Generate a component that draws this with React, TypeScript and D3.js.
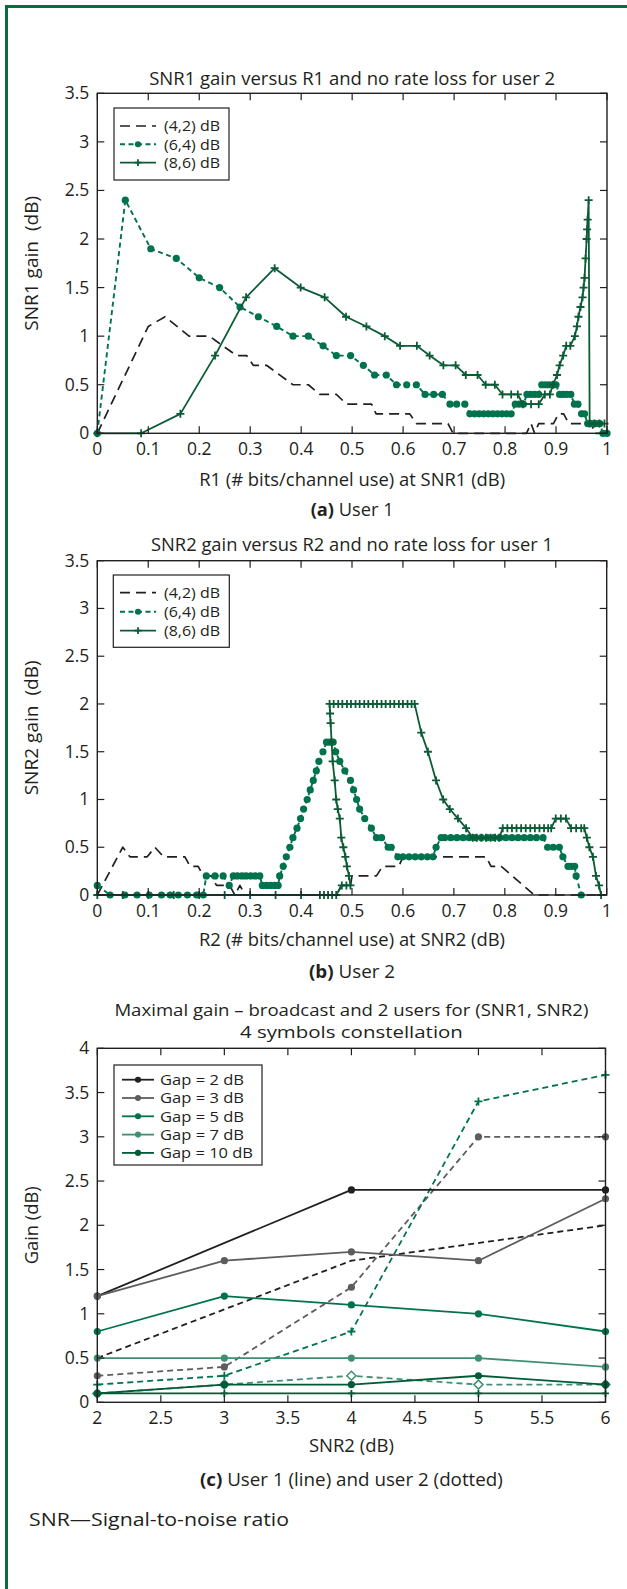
import React from "react";
import * as d3 from "d3";

type Pt = [number, number];

const FONT = "'Open Sans', 'Noto Sans', sans-serif";
const INK = "#231f20";
const BORDER = "#0b6b3e";

// ---------- tick values / labels ----------
const rateTicks = [0, 0.1, 0.2, 0.3, 0.4, 0.5, 0.6, 0.7, 0.8, 0.9, 1];
const rateTickLabels = ["0", "0.1", "0.2", "0.3", "0.4", "0.5", "0.6", "0.7", "0.8", "0.9", "1"];
const gainTicksAB = [0, 0.5, 1, 1.5, 2, 2.5, 3, 3.5];
const gainTickLabelsAB = ["0", "0.5", "1", "1.5", "2", "2.5", "3", "3.5"];
const snrTicks = [2, 2.5, 3, 3.5, 4, 4.5, 5, 5.5, 6];
const snrTickLabels = ["2", "2.5", "3", "3.5", "4", "4.5", "5", "5.5", "6"];
const gainTicksC = [0, 0.5, 1, 1.5, 2, 2.5, 3, 3.5, 4];
const gainTickLabelsC = ["0", "0.5", "1", "1.5", "2", "2.5", "3", "3.5", "4"];

const pairLabels = ["(4,2) dB", "(6,4) dB", "(8,6) dB"];
const gapLabels = ["Gap = 2 dB", "Gap = 3 dB", "Gap = 5 dB", "Gap = 7 dB", "Gap = 10 dB"];

// ---------- panel (a) data: R1 vs SNR1 gain ----------
const a42: Pt[] = [[0, 0], [0.1, 1.1], [0.133, 1.2], [0.18, 1.0], [0.22, 1.0], [0.273, 0.8], [0.293, 0.8], [0.306, 0.7], [0.332, 0.7], [0.384, 0.5], [0.414, 0.5], [0.437, 0.4], [0.469, 0.4], [0.489, 0.3], [0.538, 0.3], [0.547, 0.2], [0.613, 0.2], [0.626, 0.1], [0.688, 0.1], [0.698, 0], [0.842, 0], [0.851, 0.1], [0.858, 0], [0.866, 0.1], [0.895, 0.1], [0.905, 0.2], [0.915, 0.2], [0.925, 0.1], [0.97, 0.1], [0.975, 0], [1, 0]];
const a64: Pt[] = [[0, 0], [0.055, 2.4], [0.105, 1.9], [0.155, 1.8], [0.2, 1.6], [0.24, 1.5], [0.28, 1.3], [0.316, 1.2], [0.352, 1.1], [0.384, 1.0], [0.414, 1.0], [0.443, 0.9], [0.469, 0.8], [0.497, 0.8], [0.522, 0.7], [0.544, 0.6], [0.567, 0.6], [0.587, 0.5], [0.607, 0.5], [0.626, 0.5], [0.643, 0.4], [0.66, 0.4], [0.677, 0.4], [0.692, 0.3], [0.705, 0.3], [0.721, 0.3], [0.731, 0.2], [0.74, 0.2], [0.749, 0.2], [0.758, 0.2], [0.767, 0.2], [0.776, 0.2], [0.785, 0.2], [0.794, 0.2], [0.803, 0.2], [0.812, 0.2], [0.82, 0.3], [0.828, 0.3], [0.836, 0.3], [0.843, 0.4], [0.85, 0.4], [0.858, 0.4], [0.866, 0.4], [0.872, 0.5], [0.879, 0.5], [0.886, 0.5], [0.893, 0.5], [0.9, 0.5], [0.907, 0.4], [0.914, 0.4], [0.921, 0.4], [0.929, 0.4], [0.936, 0.3], [0.943, 0.3], [0.95, 0.2], [0.956, 0.2], [0.962, 0.1], [0.97, 0.1], [0.978, 0.1], [0.986, 0.1], [0.992, 0], [1.0, 0]];
const a86: Pt[] = [[0, 0], [0.086, 0], [0.163, 0.2], [0.231, 0.8], [0.292, 1.4], [0.348, 1.7], [0.399, 1.5], [0.446, 1.4], [0.488, 1.2], [0.528, 1.1], [0.564, 1.0], [0.594, 0.9], [0.627, 0.9], [0.652, 0.8], [0.679, 0.7], [0.703, 0.7], [0.723, 0.6], [0.746, 0.6], [0.762, 0.5], [0.78, 0.5], [0.795, 0.4], [0.812, 0.4], [0.825, 0.4], [0.835, 0.3], [0.851, 0.3], [0.866, 0.3], [0.878, 0.4], [0.888, 0.4], [0.894, 0.5], [0.902, 0.6], [0.907, 0.7], [0.914, 0.8], [0.92, 0.9], [0.928, 0.9], [0.937, 1.0], [0.941, 1.1], [0.944, 1.2], [0.948, 1.3], [0.952, 1.4], [0.954, 1.5], [0.956, 1.6], [0.958, 1.8], [0.96, 2.0], [0.961, 2.1], [0.962, 2.2], [0.964, 2.4], [0.966, 0.1], [0.975, 0.1], [0.985, 0.1], [0.995, 0.1]];

// ---------- panel (b) data: R2 vs SNR2 gain ----------
const b42: Pt[] = [[0, 0], [0.05, 0.5], [0.064, 0.4], [0.098, 0.4], [0.113, 0.5], [0.13, 0.4], [0.172, 0.4], [0.182, 0.3], [0.198, 0.3], [0.208, 0.2], [0.224, 0.2], [0.234, 0.1], [0.26, 0.1], [0.27, 0], [0.28, 0.1], [0.29, 0], [0.47, 0], [0.479, 0.1], [0.497, 0.1], [0.5, 0.2], [0.548, 0.2], [0.56, 0.3], [0.592, 0.3], [0.6, 0.4], [0.763, 0.4], [0.773, 0.3], [0.793, 0.3], [0.858, 0], [1, 0]];
const b64: Pt[] = [[0, 0.1], [0.025, 0], [0.054, 0], [0.078, 0], [0.102, 0], [0.126, 0], [0.143, 0], [0.159, 0], [0.177, 0], [0.195, 0], [0.208, 0], [0.214, 0.2], [0.231, 0.2], [0.247, 0.2], [0.259, 0.1], [0.267, 0.2], [0.275, 0.2], [0.284, 0.2], [0.292, 0.2], [0.301, 0.2], [0.31, 0.2], [0.319, 0.2], [0.324, 0.1], [0.332, 0.1], [0.34, 0.1], [0.348, 0.1], [0.355, 0.1], [0.358, 0.2], [0.365, 0.3], [0.371, 0.4], [0.378, 0.5], [0.384, 0.6], [0.392, 0.7], [0.399, 0.8], [0.405, 0.9], [0.412, 1.0], [0.418, 1.1], [0.424, 1.2], [0.43, 1.3], [0.435, 1.4], [0.443, 1.5], [0.45, 1.6], [0.456, 1.6], [0.463, 1.6], [0.468, 1.5], [0.476, 1.4], [0.486, 1.3], [0.497, 1.2], [0.503, 1.1], [0.509, 1.0], [0.515, 0.9], [0.525, 0.8], [0.538, 0.7], [0.548, 0.6], [0.558, 0.6], [0.571, 0.5], [0.577, 0.5], [0.59, 0.4], [0.6, 0.4], [0.612, 0.4], [0.624, 0.4], [0.636, 0.4], [0.648, 0.4], [0.659, 0.4], [0.665, 0.5], [0.675, 0.6], [0.682, 0.6], [0.694, 0.6], [0.706, 0.6], [0.718, 0.6], [0.73, 0.6], [0.742, 0.6], [0.754, 0.6], [0.766, 0.6], [0.778, 0.6], [0.79, 0.6], [0.802, 0.6], [0.814, 0.6], [0.826, 0.6], [0.838, 0.6], [0.85, 0.6], [0.862, 0.6], [0.875, 0.6], [0.884, 0.5], [0.895, 0.5], [0.907, 0.5], [0.914, 0.4], [0.924, 0.3], [0.93, 0.3], [0.937, 0.3], [0.94, 0.2], [0.95, 0]];
const b86: Pt[] = [[0, 0], [0.05, 0], [0.1, 0], [0.15, 0], [0.2, 0], [0.25, 0], [0.3, 0], [0.35, 0], [0.4, 0], [0.437, 0], [0.445, 0], [0.453, 0], [0.461, 0], [0.469, 0], [0.48, 0.1], [0.489, 0.1], [0.497, 0.1], [0.494, 0.2], [0.49, 0.3], [0.487, 0.4], [0.483, 0.5], [0.479, 0.6], [0.476, 0.8], [0.472, 0.9], [0.469, 1.0], [0.466, 1.2], [0.462, 1.4], [0.46, 1.6], [0.458, 1.8], [0.457, 1.9], [0.456, 2.0], [0.464, 2.0], [0.473, 2.0], [0.481, 2.0], [0.49, 2.0], [0.498, 2.0], [0.507, 2.0], [0.515, 2.0], [0.524, 2.0], [0.532, 2.0], [0.541, 2.0], [0.549, 2.0], [0.558, 2.0], [0.566, 2.0], [0.575, 2.0], [0.583, 2.0], [0.592, 2.0], [0.6, 2.0], [0.609, 2.0], [0.617, 2.0], [0.623, 2.0], [0.636, 1.7], [0.649, 1.5], [0.665, 1.2], [0.679, 1.0], [0.692, 0.9], [0.708, 0.8], [0.724, 0.7], [0.737, 0.6], [0.745, 0.6], [0.754, 0.6], [0.763, 0.6], [0.772, 0.6], [0.781, 0.6], [0.789, 0.6], [0.796, 0.7], [0.805, 0.7], [0.814, 0.7], [0.823, 0.7], [0.832, 0.7], [0.841, 0.7], [0.85, 0.7], [0.859, 0.7], [0.868, 0.7], [0.877, 0.7], [0.885, 0.7], [0.891, 0.7], [0.9, 0.8], [0.91, 0.8], [0.92, 0.8], [0.93, 0.7], [0.94, 0.7], [0.95, 0.7], [0.956, 0.7], [0.961, 0.6], [0.966, 0.5], [0.973, 0.4], [0.979, 0.2], [0.985, 0.1], [0.989, 0]];

// ---------- panel (c) data: maximal gain vs SNR2 ----------
const cUser1Gap2: Pt[] = [[2, 1.2], [4, 2.4], [6, 2.4]];
const cUser1Gap3: Pt[] = [[2, 1.2], [3, 1.6], [4, 1.7], [5, 1.6], [6, 2.3]];
const cUser1Gap5: Pt[] = [[2, 0.8], [3, 1.2], [4, 1.1], [5, 1.0], [6, 0.8]];
const cUser1Gap7: Pt[] = [[2, 0.5], [3, 0.5], [4, 0.5], [5, 0.5], [6, 0.4]];
const cUser1Gap10: Pt[] = [[2, 0.1], [3, 0.2], [4, 0.2], [5, 0.3], [6, 0.2]];
const cUser2Gap2: Pt[] = [[2, 0.5], [4, 1.6], [6, 2.0]];
const cUser2Gap3: Pt[] = [[2, 0.3], [3, 0.4], [4, 1.3], [5, 3.0], [6, 3.0]];
const cUser2Gap5: Pt[] = [[2, 0.2], [3, 0.3], [4, 0.8], [5, 3.4], [6, 3.7]];
const cUser2Gap7: Pt[] = [[2, 0.1], [3, 0.2], [4, 0.3], [5, 0.2], [6, 0.2]];
const cUser2Gap10: Pt[] = [[2, 0.1], [3, 0.1], [4, 0.1], [5, 0.1], [6, 0.1]];

// ---------- styles ----------
type Marker = "none" | "dot" | "plus" | "diamond";
interface Style { color: string; dash: string; marker: Marker; width: number; r: number }

const pairStyles: Style[] = [
  { color: INK, dash: "10,6", marker: "none", width: 1.7, r: 0 },
  { color: "#00734c", dash: "5,3.5", marker: "dot", width: 1.9, r: 3.6 },
  { color: "#0b5c36", dash: "", marker: "plus", width: 1.8, r: 4 },
];
const gapColors = [INK, "#5d5d5d", "#00734c", "#3f8f70", "#005b36"];

interface Series { data: Pt[]; style: Style }

function MarkerShape({ kind, x, y, color, r }: { kind: Marker; x: number; y: number; color: string; r: number }) {
  if (kind === "dot") return <circle cx={x} cy={y} r={r} fill={color} />;
  if (kind === "plus")
    return <path d={`M${x - r},${y}H${x + r}M${x},${y - r}V${y + r}`} stroke={color} strokeWidth={1.8} fill="none" />;
  if (kind === "diamond")
    return <path d={`M${x},${y - r}L${x + r},${y}L${x},${y + r}L${x - r},${y}Z`} stroke={color} strokeWidth={1.5} fill="white" />;
  return null;
}

interface Frame { left: number; right: number; top: number; bottom: number }

function Panel(props: {
  frame: Frame;
  xDomain: [number, number];
  yDomain: [number, number];
  xTicks: number[];
  xTickLabels: string[];
  yTicks: number[];
  yTickLabels: string[];
  series: Series[];
  titleLines: string[];
  titleBaselines: number[];
  titleLengths: number[];
  titleSize: number;
  yLabel: string;
  yLabelX: number;
  yLabelLen: number;
  xLabel: string;
  xLabelY: number;
  xLabelLen: number;
  captionBold: string;
  captionRest: string;
  captionY: number;
  captionLen: number;
  legend: { labels: string[]; lens: number[]; styles: Style[]; box: Frame; rowY: number[]; lineX: [number, number]; textX: number };
}) {
  const { frame: f } = props;
  const x = d3.scaleLinear().domain(props.xDomain).range([f.left, f.right]);
  const y = d3.scaleLinear().domain(props.yDomain).range([f.bottom, f.top]);
  const line = d3.line<Pt>().x((d) => x(d[0])).y((d) => y(d[1]));
  const cx = (f.left + f.right) / 2;
  const tl = 7;
  const lg = props.legend;
  return (
    <g fontFamily={FONT} fill={INK}>
      {props.titleLines.map((t, i) => (
        <text key={i} x={cx} y={props.titleBaselines[i]} textAnchor="middle" fontSize={props.titleSize}
          textLength={props.titleLengths[i]} lengthAdjust="spacingAndGlyphs">{t}</text>
      ))}
      {props.series.map((s, i) => (
        <g key={i}>
          <path d={line(s.data) || ""} fill="none" stroke={s.style.color} strokeWidth={s.style.width}
            strokeDasharray={s.style.dash || undefined} strokeLinejoin="round" />
          {s.style.marker !== "none" &&
            s.data.map((d, j) => (
              <MarkerShape key={j} kind={s.style.marker} x={x(d[0])} y={y(d[1])} color={s.style.color} r={s.style.r} />
            ))}
        </g>
      ))}
      <rect x={f.left} y={f.top} width={f.right - f.left} height={f.bottom - f.top} fill="none" stroke={INK} strokeWidth={1.4} />
      {props.xTicks.map((t, i) => (
        <g key={"xt" + i}>
          <line x1={x(t)} x2={x(t)} y1={f.bottom} y2={f.bottom - tl} stroke={INK} strokeWidth={1.2} />
          <line x1={x(t)} x2={x(t)} y1={f.top} y2={f.top + tl} stroke={INK} strokeWidth={1.2} />
          <text x={x(t)} y={f.bottom + 21.7} textAnchor="middle" fontSize={17.5}>{props.xTickLabels[i]}</text>
        </g>
      ))}
      {props.yTicks.map((t, i) => (
        <g key={"yt" + i}>
          <line x1={f.left} x2={f.left + tl} y1={y(t)} y2={y(t)} stroke={INK} strokeWidth={1.2} />
          <line x1={f.right} x2={f.right - tl} y1={y(t)} y2={y(t)} stroke={INK} strokeWidth={1.2} />
          <text x={f.left - 8} y={y(t) + 6} textAnchor="end" fontSize={17.5}>{props.yTickLabels[i]}</text>
        </g>
      ))}
      <rect x={lg.box.left} y={lg.box.top} width={lg.box.right - lg.box.left} height={lg.box.bottom - lg.box.top}
        fill="white" stroke={INK} strokeWidth={1.2} />
      {lg.labels.map((l, i) => {
        const st = lg.styles[i];
        const yy = lg.rowY[i];
        return (
          <g key={"lg" + i}>
            <line x1={lg.lineX[0]} x2={lg.lineX[1]} y1={yy} y2={yy} stroke={st.color} strokeWidth={st.width}
              strokeDasharray={st.dash || undefined} />
            <MarkerShape kind={st.marker} x={(lg.lineX[0] + lg.lineX[1]) / 2} y={yy} color={st.color} r={st.r * 0.85} />
            <text x={lg.textX} y={yy + 5.4} fontSize={15} textLength={lg.lens[i]} lengthAdjust="spacingAndGlyphs">{l}</text>
          </g>
        );
      })}
      <text x={cx} y={props.xLabelY} textAnchor="middle" fontSize={17.5}
        textLength={props.xLabelLen} lengthAdjust="spacingAndGlyphs">{props.xLabel}</text>
      <text x={cx} y={props.captionY} textAnchor="middle" fontSize={18}
        textLength={props.captionLen} lengthAdjust="spacingAndGlyphs">
        <tspan fontWeight="bold">{props.captionBold}</tspan>
        <tspan>{" " + props.captionRest}</tspan>
      </text>
      <text transform={`translate(${props.yLabelX},${(f.top + f.bottom) / 2}) rotate(-90)`} textAnchor="middle"
        fontSize={17.5} style={{ whiteSpace: "pre" }} textLength={props.yLabelLen} lengthAdjust="spacingAndGlyphs">{props.yLabel}</text>
    </g>
  );
}

export default function App() {
  const seriesA: Series[] = [a42, a64, a86].map((d, i) => ({ data: d, style: pairStyles[i] }));
  const seriesB: Series[] = [b42, b64, b86].map((d, i) => ({ data: d, style: pairStyles[i] }));
  const solidDot = (c: string): Style => ({ color: c, dash: "", marker: "dot", width: 1.8, r: 3.6 });
  const seriesC: Series[] = [
    { data: cUser2Gap2, style: { color: gapColors[0], dash: "6,4", marker: "none", width: 1.8, r: 0 } },
    { data: cUser2Gap3, style: { color: gapColors[1], dash: "6,4", marker: "dot", width: 1.8, r: 3.6 } },
    { data: cUser2Gap5, style: { color: gapColors[2], dash: "6,4", marker: "plus", width: 1.8, r: 4 } },
    { data: cUser2Gap7, style: { color: gapColors[3], dash: "6,4", marker: "diamond", width: 1.8, r: 4.5 } },
    { data: cUser2Gap10, style: { color: gapColors[4], dash: "", marker: "plus", width: 1.8, r: 3.5 } },
    { data: cUser1Gap2, style: solidDot(gapColors[0]) },
    { data: cUser1Gap3, style: solidDot(gapColors[1]) },
    { data: cUser1Gap5, style: solidDot(gapColors[2]) },
    { data: cUser1Gap7, style: solidDot(gapColors[3]) },
    { data: cUser1Gap10, style: solidDot(gapColors[4]) },
  ];
  return (
    <svg width={627} height={1589} style={{ position: "absolute", left: 0, top: 0, background: "white" }}>
      <line x1={5} x2={627} y1={6.5} y2={6.5} stroke={BORDER} strokeWidth={3} />
      <line x1={6.5} x2={6.5} y1={5} y2={1589} stroke={BORDER} strokeWidth={3} />
      <Panel
        frame={{ left: 97.3, right: 607, top: 93.3, bottom: 433.3 }}
        xDomain={[0, 1]} yDomain={[0, 3.5]}
        xTicks={rateTicks} xTickLabels={rateTickLabels}
        yTicks={gainTicksAB} yTickLabels={gainTickLabelsAB}
        series={seriesA}
        titleLines={["SNR1 gain versus R1 and no rate loss for user 2"]} titleBaselines={[84.5]} titleLengths={[406]} titleSize={17.5}
        yLabel="SNR1 gain  (dB)" yLabelX={38} yLabelLen={135}
        xLabel="R1 (# bits/channel use) at SNR1 (dB)" xLabelY={486} xLabelLen={306}
        captionBold="(a)" captionRest="User 1" captionY={516} captionLen={83}
        legend={{ labels: pairLabels, lens: [56, 56, 56], styles: pairStyles, box: { left: 114, right: 229, top: 108, bottom: 180 }, rowY: [126, 144.3, 162.6], lineX: [120, 156], textX: 164 }}
      />
      <Panel
        frame={{ left: 97.3, right: 606.7, top: 560.7, bottom: 895 }}
        xDomain={[0, 1]} yDomain={[0, 3.5]}
        xTicks={rateTicks} xTickLabels={rateTickLabels}
        yTicks={gainTicksAB} yTickLabels={gainTickLabelsAB}
        series={seriesB}
        titleLines={["SNR2 gain versus R2 and no rate loss for user 1"]} titleBaselines={[551]} titleLengths={[402]} titleSize={17.5}
        yLabel="SNR2 gain  (dB)" yLabelX={38} yLabelLen={135}
        xLabel="R2 (# bits/channel use) at SNR2 (dB)" xLabelY={946} xLabelLen={306}
        captionBold="(b)" captionRest="User 2" captionY={977.5} captionLen={86}
        legend={{ labels: pairLabels, lens: [56, 56, 56], styles: pairStyles, box: { left: 113.3, right: 229.3, top: 575, bottom: 647.3 }, rowY: [592.7, 611.7, 630.7], lineX: [120, 156], textX: 164 }}
      />
      <Panel
        frame={{ left: 97.3, right: 605.5, top: 1048.3, bottom: 1402.3 }}
        xDomain={[2, 6]} yDomain={[0, 4]}
        xTicks={snrTicks} xTickLabels={snrTickLabels}
        yTicks={gainTicksC} yTickLabels={gainTickLabelsC}
        series={seriesC}
        titleLines={["Maximal gain \u2013 broadcast and 2 users for (SNR1, SNR2)", "4 symbols constellation"]} titleBaselines={[1016, 1038]} titleLengths={[474, 223]} titleSize={16.5}
        yLabel="Gain (dB)" yLabelX={38} yLabelLen={78}
        xLabel="SNR2 (dB)" xLabelY={1452} xLabelLen={85}
        captionBold="(c)" captionRest="User 1 (line) and user 2 (dotted)" captionY={1485.5} captionLen={303}
        legend={{ labels: gapLabels, lens: [84, 84, 84, 84, 93], styles: gapColors.map((c) => solidDot(c)), box: { left: 114, right: 262, top: 1065, bottom: 1165 }, rowY: [1079.7, 1098, 1116.3, 1134.6, 1152.9], lineX: [122, 154], textX: 160 }}
      />
      <text x={29} y={1525.5} fontFamily={FONT} fontSize={19} fill={INK} textLength={260} lengthAdjust="spacingAndGlyphs">SNR{"\u2014"}Signal-to-noise ratio</text>
    </svg>
  );
}
